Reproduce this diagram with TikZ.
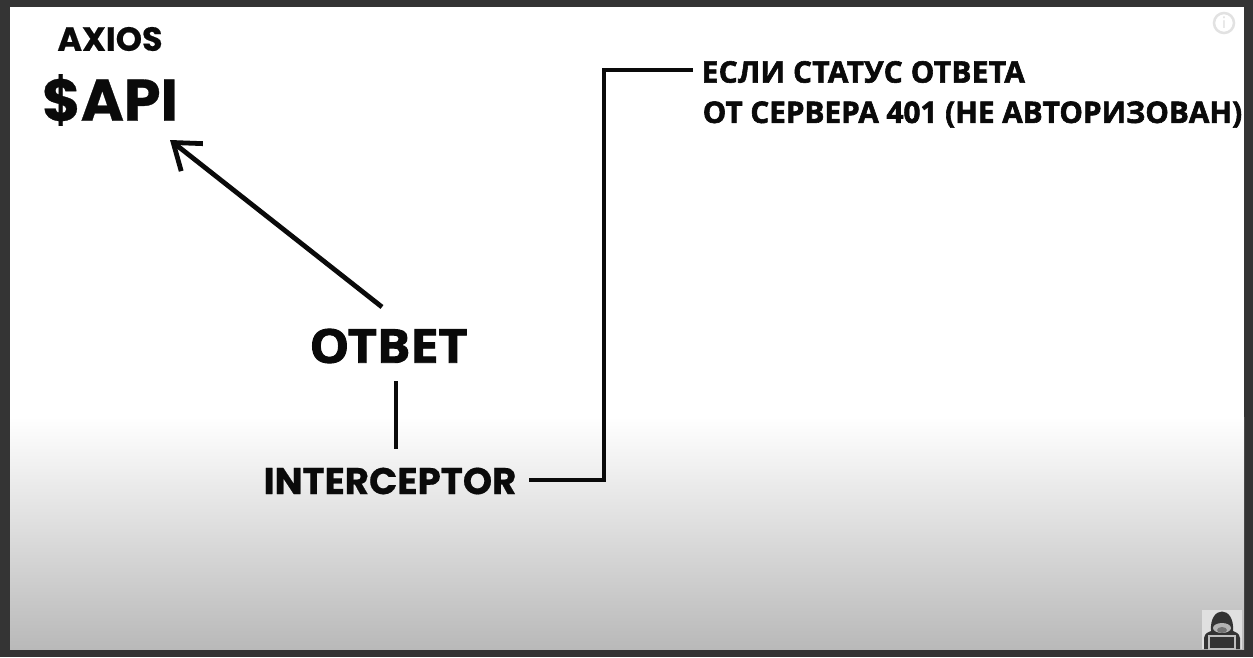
\documentclass[tikz,border=0pt]{standalone}
\usepackage{fontspec}
\usetikzlibrary{arrows.meta,positioning}
\newfontfamily\latfont{Poppins}[BoldFont=Poppins Bold, BoldFeatures={FakeBold=0.5}]
\newfontfamily\cyrfont{Open Sans}[BoldFeatures={FakeBold=2}]
\definecolor{frame}{HTML}{343434}
\definecolor{ink}{HTML}{0A0A0A}
\definecolor{fadegrey}{HTML}{B9B9B9}
\definecolor{iconcol}{HTML}{E2E2E2}
\definecolor{avatarcol}{HTML}{333333}

\begin{document}
\begin{tikzpicture}[
  line cap=butt, line join=miter,
  lat/.style={inner sep=0pt, text=ink},
  cyr/.style={inner sep=0pt, text=ink},
  wire/.style={ink, line width=0.48mm}]

% ---- frame and sheet ---------------------------------------------------
\useasboundingbox (0,0) rectangle (12.53,6.57);
\fill[frame] (0,0) rectangle (12.53,6.57);
\fill[white] (0.10,2.40) rectangle (12.44,6.50);
\fill[top color=white, bottom color=fadegrey] (0.10,0.08) rectangle (12.44,2.40);

% ---- labels ------------------------------------------------------------
\node[lat, font=\latfont\bfseries\fontsize{9.5}{11}\selectfont] (axios) at (1.10,6.18) {AXIOS};
\node[lat, font=\latfont\bfseries\fontsize{16.7}{20}\selectfont] (api) at (1.10,5.57) {\$API};
\node[cyr, xscale=1.07, transform shape, font=\cyrfont\bfseries\fontsize{13.3}{16}\selectfont] (otvet) at (3.885,3.11) {ОТВЕТ};
\node[lat, font=\latfont\bfseries\fontsize{10.6}{12}\selectfont] (interceptor) at (3.90,1.76) {INTERCEPTOR};
\node[cyr, font=\cyrfont\bfseries\fontsize{8.45}{10}\selectfont\addfontfeature{LetterSpace=1.3}, anchor=west] (status) at (7.01,5.85) {ЕСЛИ СТАТУС ОТВЕТА};
\node[cyr, font=\cyrfont\bfseries\fontsize{8.45}{10}\selectfont, anchor=west] (server) at (7.02,5.425) {ОТ СЕРВЕРА 401 (НЕ АВТОРИЗОВАН)};

% ---- connector ends ----------------------------------------------------
\coordinate (tipapi) at (1.70,5.17);
\coordinate (tailotvet) at (3.82,3.50);
\coordinate (upotvet) at (3.96,2.76);
\coordinate (downint) at (3.96,2.08);
\coordinate (outint) at (5.29,1.77);
\coordinate (bend) at (6.04,1.77);
\coordinate (instatus) at (6.93,5.87);

\draw[wire, -{Straight Barb[length=2.4mm, width=3.5mm, line width=0.48mm]}] (tailotvet) -- (tipapi);
\draw[wire] (upotvet) -- (downint);
\draw[wire] (outint) -- (bend) |- (instatus);

% ---- info mark ---------------------------------------------------------
\node[circle, draw=iconcol, line width=0.25mm, minimum size=2mm, inner sep=0pt, text=iconcol,
  font=\sffamily\fontsize{5}{6}\selectfont] (info) at (12.24,6.34) {i};

% ---- avatar ------------------------------------------------------------
\fill[white!88!black] (12.02,0.08) rectangle (12.42,0.47);
\fill[avatarcol] (12.04,0.08) -- (12.04,0.19) .. controls (12.05,0.24) and (12.08,0.25) .. (12.11,0.26)
  .. controls (12.09,0.52) and (12.35,0.52) .. (12.33,0.26)
  .. controls (12.36,0.25) and (12.39,0.24) .. (12.40,0.19) -- (12.40,0.08) -- cycle;
\fill[white!70!black] (12.22,0.29) ellipse (0.09 and 0.05);
\fill[white!45!black] (12.22,0.27) ellipse (0.05 and 0.03);
\draw[white!75!black, line width=0.2mm, fill=avatarcol] (12.09,0.08) rectangle (12.35,0.21);

\end{tikzpicture}
\end{document}
